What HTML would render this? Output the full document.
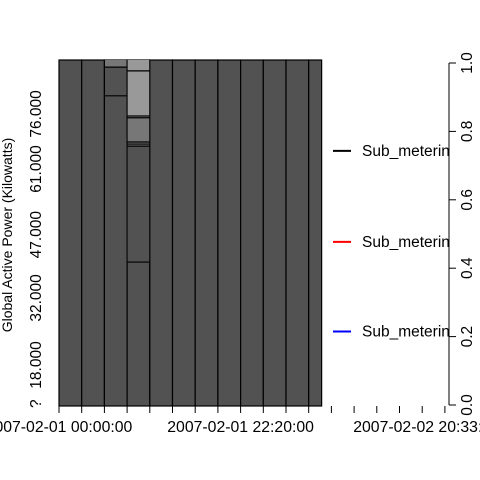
<!DOCTYPE html>
<html><head><meta charset="utf-8"><style>
body{margin:0;background:#fff}
svg{display:block;font-family:"Liberation Sans",Arial,sans-serif}
</style></head><body>
<svg id="c" width="480" height="480" xmlns="http://www.w3.org/2000/svg">
<rect width="480" height="480" fill="#fff"/>
<g id="plot"></g>
<text transform="translate(12,235) rotate(-90)" text-anchor="middle" font-size="14">Global Active Power (Kilowatts)</text>
</svg>
<script>
// data
const colStarts = [0,1,2,3,4,5,6,7,8,9,10,11];
const colWidths = [1,1,1,1,1,1,1,1,1,1,1,0.57];
const col2Segs = [[0.904,0.988,'#525252'],[0.988,1.013,'#777777']];
const col3Segs = [[0.418,0.757,'#525252'],[0.757,0.769,'#777777'],[0.769,0.840,'#777777'],[0.840,0.845,'#999999'],[0.845,0.977,'#999999'],[0.977,1.013,'#999999']];
const col2Lines = [0.904,0.988];
const col3Lines = [0.418,0.757,0.763,0.769,0.840,0.845,0.977];
const xTickIdx = [0,1,2,3,4,5,6,7,8,9,10,11,12,13,14,15,16,17];
const xLabelIdx = [0,8,16];
const xLabels = ['2007-02-01 00:00:00','2007-02-01 22:20:00','2007-02-02 20:33:0'];
const yLabels = ['?','18.000','32.000','47.000','61.000','76.000'];
const yLabelPos = [0.004,0.117,0.313,0.498,0.690,0.851];
const rightTicks = [0,0.2,0.4,0.6,0.8,1.0];
const legendLabels = ['Sub_meterin','Sub_meterin','Sub_meterin'];
const legendColors = ['#000','#f00','#00f'];
const legendPos = [0.743,0.477,0.215];

const X = i => 59 + i*22.7;
const Y = f => 405 - f*342;
const NS='http://www.w3.org/2000/svg';
const svg=document.getElementById('c'), g=document.getElementById('plot');
function mk(tag,attrs,parent){const e=document.createElementNS(NS,tag);for(const k in attrs)e.setAttribute(k,attrs[k]);(parent||svg).appendChild(e);return e;}

colStarts.forEach((s,i)=>{
  const r=mk('rect',{x:X(s),y:60,width:X(s+colWidths[i])-X(s),height:406-60,fill:'#525252',stroke:'#000','stroke-width':1.2},g);
  
  
});
[[2,col2Segs,col2Lines],[3,col3Segs,col3Lines]].forEach(([c,segs,lines])=>{
  segs.forEach(sg=>{
    const top=Math.max(60,Y(sg[1]));
    const r=mk('rect',{x:X(c)+0.6,y:top,width:X(c+1)-X(c)-1.2,height:Y(sg[0])-top,fill:sg[2]},g);
    
    
  });
  lines.forEach(v=>{
    const l=mk('line',{x1:X(c),x2:X(c+1),y1:Y(v),y2:Y(v),stroke:'#000','stroke-width':1.2},g);
    
    
  });
});
xTickIdx.forEach(i=>{
  const l=mk('line',{x1:X(i),x2:X(i),y1:406,y2:413,stroke:'#000'});
  
  
});
xLabelIdx.forEach((i,k)=>{
  const t=mk('text',{x:X(i),y:432,'text-anchor':'middle','font-size':15.8});
  t.textContent=xLabels[k];
  
  
});
yLabels.forEach((s,k)=>{
  const y=Y(yLabelPos[k]);
  const t=mk('text',{transform:`translate(41,${y}) rotate(-90)`,'text-anchor':'middle','font-size':15.5});
  t.textContent=s;
  
  
});
const ax=mk('line',{x1:449,x2:449,y1:Y(0),y2:Y(1),stroke:'#000'});


rightTicks.forEach(v=>{
  const l=mk('line',{x1:449,x2:456,y1:Y(v),y2:Y(v),stroke:'#000'});
  
  
  const t=mk('text',{transform:`translate(472,${Y(v)}) rotate(-90)`,'text-anchor':'middle','font-size':15.5});
  t.textContent=v.toFixed(1);
  
  
});
const clip=mk('clipPath',{id:'lc'});mk('rect',{x:320,y:0,width:129,height:480},clip);
legendLabels.forEach((s,k)=>{
  const y=Y(legendPos[k]);
  const l=mk('line',{x1:333,x2:351,y1:y,y2:y,stroke:legendColors[k],'stroke-width':2});
  
  
  const t=mk('text',{x:362,y:y+5,'font-size':15.5,'clip-path':'url(#lc)'});
  t.textContent=s;
  
  
});
</script>
</body></html>
